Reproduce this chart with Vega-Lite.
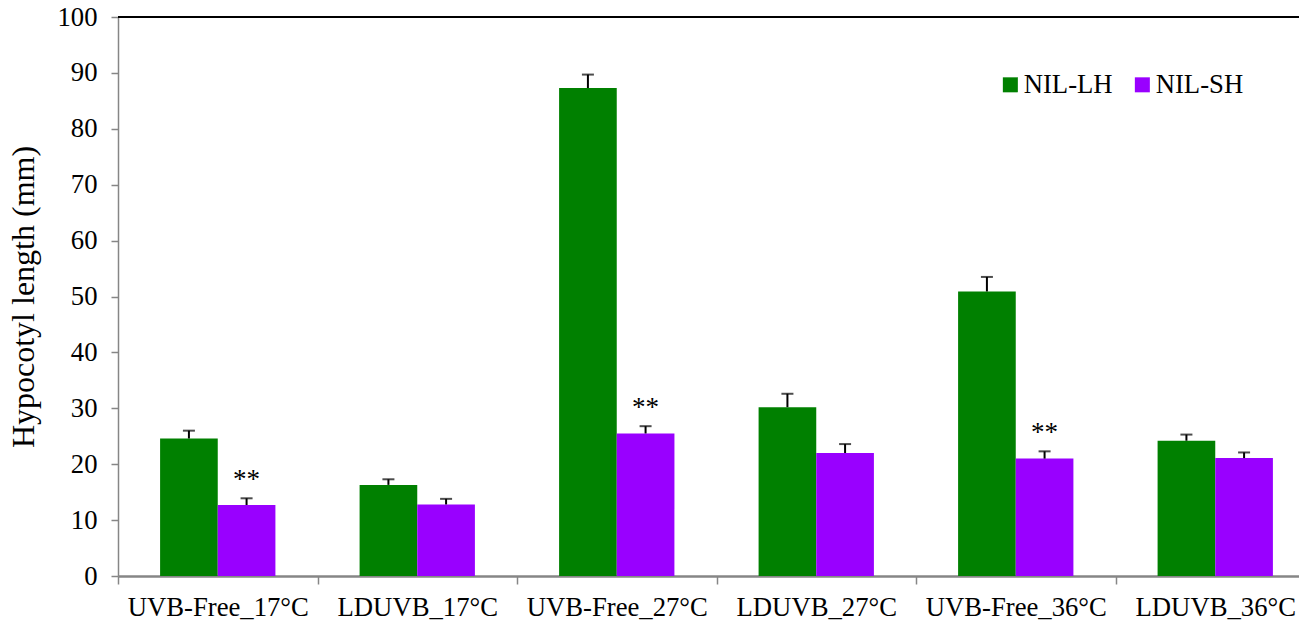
{
  "$schema": "https://vega.github.io/schema/vega-lite/v6.json",
  "autosize": {"type": "none"},
  "padding": {"left": 118, "top": 17, "right": 0, "bottom": 48},
  "width": 1181,
  "height": 559,
  "background": "white",
  "config": {
    "view": {"stroke": null},
    "font": "'Liberation Serif', 'Times New Roman', serif",
    "axis": {
      "labelFont": "'Liberation Serif', 'Times New Roman', serif",
      "labelFontSize": 26.7,
      "labelColor": "black",
      "labelLimit": 0,
      "titleFont": "'Liberation Serif', 'Times New Roman', serif",
      "titleFontWeight": "normal",
      "titleColor": "black",
      "tickColor": "#868686",
      "domainColor": "#868686",
      "grid": false
    },
    "legend": {"labelFont": "'Liberation Serif', 'Times New Roman', serif", "labelLimit": 0},
    "text": {"font": "'Liberation Serif', 'Times New Roman', serif"}
  },
  "data": {
    "values": [
      {"cond": "UVB-Free_17°C", "geno": "NIL-LH", "value": 24.6, "hi": 26.0, "sig": ""},
      {"cond": "UVB-Free_17°C", "geno": "NIL-SH", "value": 12.7, "hi": 13.9, "sig": "**"},
      {"cond": "LDUVB_17°C", "geno": "NIL-LH", "value": 16.3, "hi": 17.3, "sig": ""},
      {"cond": "LDUVB_17°C", "geno": "NIL-SH", "value": 12.8, "hi": 13.8, "sig": ""},
      {"cond": "UVB-Free_27°C", "geno": "NIL-LH", "value": 87.3, "hi": 89.7, "sig": ""},
      {"cond": "UVB-Free_27°C", "geno": "NIL-SH", "value": 25.5, "hi": 26.8, "sig": "**"},
      {"cond": "LDUVB_27°C", "geno": "NIL-LH", "value": 30.2, "hi": 32.6, "sig": ""},
      {"cond": "LDUVB_27°C", "geno": "NIL-SH", "value": 22.0, "hi": 23.6, "sig": ""},
      {"cond": "UVB-Free_36°C", "geno": "NIL-LH", "value": 50.9, "hi": 53.5, "sig": ""},
      {"cond": "UVB-Free_36°C", "geno": "NIL-SH", "value": 21.0, "hi": 22.3, "sig": "**"},
      {"cond": "LDUVB_36°C", "geno": "NIL-LH", "value": 24.2, "hi": 25.3, "sig": ""},
      {"cond": "LDUVB_36°C", "geno": "NIL-SH", "value": 21.1, "hi": 22.1, "sig": ""}
    ]
  },
  "encoding": {
    "x": {
      "field": "cond",
      "type": "nominal",
      "sort": null,
      "scale": {"range": [0, 1197], "paddingInner": 0, "paddingOuter": 0},
      "axis": {
        "title": null,
        "labelAngle": 0,
        "labelPadding": 10,
        "labelLimit": 0,
        "tickBand": "extent",
        "tickSize": 8,
        "tickWidth": 1.5,
        "domainWidth": 2.5
      }
    },
    "xOffset": {
      "field": "geno",
      "type": "nominal",
      "scale": {"paddingInner": 0, "paddingOuter": 0.73}
    },
    "y": {
      "field": "value",
      "type": "quantitative",
      "scale": {"domain": [0, 100], "nice": false},
      "axis": {
        "title": "Hypocotyl length (mm)",
        "titleFontSize": 32,
        "titlePadding": 16,
        "values": [0, 10, 20, 30, 40, 50, 60, 70, 80, 90, 100],
        "labelPadding": 14,
        "tickSize": 7,
        "tickWidth": 1.5,
        "domainWidth": 1.5
      }
    }
  },
  "layer": [
    {
      "mark": {"type": "bar"},
      "encoding": {
        "color": {
          "field": "geno",
          "type": "nominal",
          "scale": {"domain": ["NIL-LH", "NIL-SH"], "range": ["#008000", "#9900FF"]},
          "legend": {
            "orient": "none",
            "legendX": 879,
            "legendY": 54,
            "direction": "horizontal",
            "title": null,
            "symbolType": "square",
            "symbolSize": 225,
            "symbolStrokeWidth": 0,
            "labelFontSize": 26.7,
            "labelColor": "black",
            "labelOffset": 0,
            "columnPadding": 16
          }
        }
      }
    },
    {
      "mark": {"type": "rule", "color": "black", "strokeWidth": 2},
      "encoding": {
        "y2": {"field": "hi"}
      }
    },
    {
      "mark": {"type": "tick", "color": "black", "size": 12, "thickness": 2},
      "encoding": {
        "y": {"field": "hi", "type": "quantitative"}
      }
    },
    {
      "transform": [{"filter": "datum.sig != ''"}],
      "mark": {"type": "text", "fontSize": 27, "color": "black", "baseline": "alphabetic", "dy": -10},
      "encoding": {
        "y": {"field": "hi", "type": "quantitative"},
        "text": {"field": "sig"}
      }
    },
    {
      "data": {"values": [{"top": 100}]},
      "mark": {"type": "rule", "color": "black", "strokeWidth": 2},
      "encoding": {"y": {"field": "top", "type": "quantitative"}, "x": null, "xOffset": null}
    }
  ]
}
